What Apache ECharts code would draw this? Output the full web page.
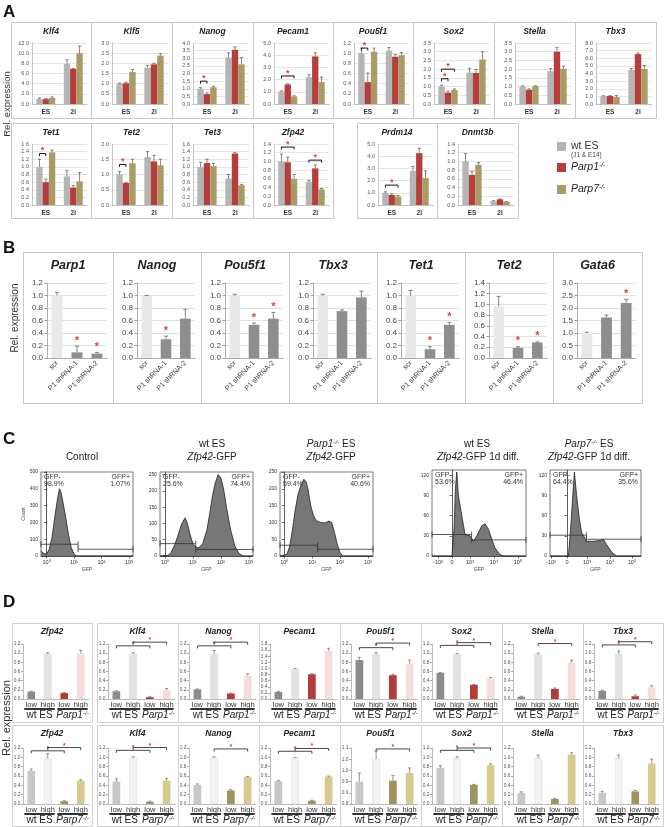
<!DOCTYPE html>
<html><head><meta charset="utf-8">
<script src="https://cdn.jsdelivr.net/npm/echarts@6.0.0/dist/echarts.min.js"></script>
<style>html,body{margin:0;padding:0;background:#fff;}#chart{width:664px;height:827px;}</style>
</head><body><div id="chart"></div>
<script>
// ================= DATA =================
// ---- Panel A (qPCR, ES vs 2i) ----
const aGroups = ['ES', '2i'];
const aNames = ['wt ES', 'Parp1-/-', 'Parp7-/-'];
const aGenes = ['Klf4','Klf5','Nanog','Pecam1','Pou5f1','Sox2','Stella','Tbx3','Tet1','Tet2','Tet3','Zfp42','Prdm14','Dnmt3b'];
const aMax = [12, 3, 4, 5, 1.2, 3.5, 3.5, 8, 1.6, 2, 1.6, 1.4, 5, 1.4];
const aInterval = [2, 0.5, 0.5, 1, 0.2, 0.5, 0.5, 1, 0.2, 0.5, 0.2, 0.2, 1, 0.2];
const aWt = [[1.0,7.9],[1.0,1.78],[1.0,3.05],[1.0,2.2],[1.0,1.05],[1.0,1.8],[1.0,1.88],[1.0,4.45],[1.0,0.75],[1.0,1.57],[1.0,0.7],[1.0,0.53],[1.0,2.8],[1.0,0.09]];
const aP1 = [[0.95,6.9],[1.02,1.95],[0.65,3.55],[1.6,3.9],[0.43,0.93],[0.65,1.78],[0.82,3.0],[1.05,6.55],[0.6,0.46],[0.72,1.43],[1.1,1.35],[0.98,0.84],[0.82,4.25],[0.69,0.13]];
const aP7 = [[1.2,10.0],[1.57,2.38],[1.1,2.6],[0.62,1.8],[1.03,0.96],[0.8,2.55],[1.02,2.02],[0.92,4.6],[1.38,0.62],[1.37,1.3],[1.02,0.52],[0.6,0.36],[0.7,2.2],[0.92,0.07]];
const aWtErr = [[0.2,0.8],[0.03,0.12],[0.07,0.3],[0.07,0.2],[0.1,0.06],[0.07,0.25],[0.04,0.15],[0.07,0.2],[0.2,0.15],[0.1,0.18],[0.12,0.1],[0.17,0.03],[0.08,0.35],[0.18,0.01]];
const aP1Err = [[0.1,0.1],[0.05,0.05],[0.08,0.2],[0.05,0.3],[0.18,0.04],[0.08,0.2],[0.05,0.25],[0.05,0.15],[0.08,0.05],[0.02,0.2],[0.1,0.03],[0.12,0.08],[0.08,0.4],[0.08,0.01]];
const aP7Err = [[0.2,1.4],[0.12,0.1],[0.07,0.45],[0.05,0.4],[0.07,0.05],[0.06,0.45],[0.03,0.15],[0.2,0.45],[0.06,0.23],[0.13,0.2],[0.07,0.02],[0.1,0.02],[0.08,0.6],[0.05,0.01]];
// significance brackets: [gene, group, fromBar, toBar, y]
const aBrackets = [[2,0,0,1,1.5],[3,0,0,2,2.3],[4,0,0,1,1.1],[5,0,0,1,1.45],[5,0,0,2,2.0],[8,0,0,1,1.35],[9,0,0,1,1.33],[11,0,0,2,1.33],[11,1,0,2,1.03],[12,0,0,2,1.63]];

// ---- Panel B (shRNA knockdown) ----
const bCats = ['scr', 'P1 shRNA-1', 'P1 shRNA-2'];
const bGenes = ['Parp1','Nanog','Pou5f1','Tbx3','Tet1','Tet2','Gata6'];
const bMax = [1.2, 1.2, 1.2, 1.2, 1.2, 1.4, 3.0];
const bInterval = [0.2, 0.2, 0.2, 0.2, 0.2, 0.2, 0.5];
const bVals = [[1.0,0.09,0.07],[1.0,0.3,0.63],[1.0,0.53,0.63],[1.0,0.75,0.97],[1.0,0.14,0.53],[0.97,0.19,0.29],[1.0,1.62,2.2]];
const bErr = [[0.05,0.1,0.02],[0.0,0.05,0.15],[0.02,0.03,0.1],[0.02,0.02,0.1],[0.08,0.04,0.04],[0.18,0.02,0.01],[0.03,0.1,0.15]];
const bStars = [[0,1,1],[0,1,0],[0,1,1],[0,0,0],[0,1,1],[0,1,1],[0,0,1]];

// ---- Panel C (flow cytometry histograms: [x, count]) ----
const cNeg = ['98.9%', '25.6%', '59.4%', '53.6%', '64.4%'];
const cPos = ['1.07%', '74.4%', '40.6%', '46.4%', '35.6%'];
const cControl = [[-0.2,30],[-0.12,18],[0.0,10],[0.1,40],[0.2,110],[0.3,230],[0.4,340],[0.47,400],[0.52,385],[0.6,320],[0.7,230],[0.8,130],[0.9,50],[1.0,12],[1.1,0],[3.15,0]];
const cWt = [[-0.18,0],[0.1,2],[0.2,8],[0.35,35],[0.45,60],[0.6,100],[0.72,117],[0.8,100],[0.9,65],[1.0,38],[1.1,28],[1.2,25],[1.35,38],[1.5,80],[1.6,130],[1.7,185],[1.8,225],[1.9,250],[2.0,240],[2.1,205],[2.2,150],[2.35,80],[2.5,30],[2.65,8],[2.8,0],[3.15,0]];
const cP1 = [[-0.15,0],[0.1,5],[0.2,30],[0.3,80],[0.4,140],[0.5,185],[0.6,210],[0.7,228],[0.78,222],[0.85,200],[0.95,150],[1.05,120],[1.15,105],[1.3,100],[1.45,98],[1.6,104],[1.7,100],[1.8,70],[1.9,35],[2.0,10],[2.1,0],[3.15,0]];
const cWt1d = [[-1.0,0],[0.0,0],[0.1,40],[0.17,100],[0.24,125],[0.32,90],[0.49,60],[0.65,32],[0.9,30],[1.07,22],[1.24,30],[1.49,45],[1.65,48],[1.82,40],[1.99,25],[2.15,12],[2.4,2],[2.6,0],[3.7,0]];
const cP71d = [[-0.85,0],[0.07,0],[0.18,40],[0.28,86],[0.37,125],[0.48,90],[0.62,55],[0.73,35],[0.98,22],[1.32,22],[1.65,23],[1.82,25],[1.98,17],[2.23,6],[2.48,0],[3.7,0]];
// gates: [xStart, xEnd, y]
const cGates = [
  [[-0.2,1.15,70],[1.15,3.15,40]],
  [[-0.18,1.1,38],[1.1,3.15,20]],
  [[-0.15,1.2,32],[1.2,3.18,20]],
  [[-1.0,0.98,32],[0.98,3.7,24]],
  [[-0.85,0.97,31],[0.97,3.7,25]]
];
const cLogTicks = [0, 1, 2, 3];
const cLogLabels = ['10\u2070', '10\u00b9', '10\u00b2', '10\u00b3'];
const cBiTicksWt = [-0.7, 0, 0.9, 2.1, 3.3];
const cBiTicksP7 = [-0.8, 0, 1.0, 2.15, 3.25];
const cBiLabels = ['-10\u00b3', '0', '10\u00b3', '10\u2074', '10\u2075'];

// ---- Panel D (low / high Zfp42-GFP sorted) ----
const dCats = ['low', 'high', 'low', 'high'];
const dGenes = ['Zfp42','Klf4','Nanog','Pecam1','Pou5f1','Sox2','Stella','Tbx3'];
const d1Max = [1.2, 1.2, 1.2, 1.8, 1.2, 1.2, 1.2, 1.2];
const d1Vals = [[0.16,0.98,0.13,1.0],[0.17,0.98,0.04,0.2],[0.21,0.98,0.12,0.51],[0.23,0.98,0.81,1.58],[0.85,0.98,0.52,0.77],[0.57,0.98,0.31,0.45],[0.05,0.98,0.22,0.79],[0.18,0.98,0.06,0.26]];
const d1Err = [[0.01,0.03,0.01,0.06],[0.01,0.03,0.01,0.03],[0.01,0.08,0.01,0.04],[0.02,0.02,0.02,0.08],[0.06,0.03,0.02,0.08],[0.01,0.01,0.01,0.02],[0.01,0.02,0.02,0.06],[0.01,0.07,0.03,0.03]];
const d1Brackets = [[], [[0,2,1.16],[1,3,1.24]], [[0,2,1.16],[1,3,1.24]], [], [[0,2,1.12],[1,3,1.22]], [[0,2,1.17],[1,3,1.23]], [[1,3,1.21]], [[0,2,1.18],[1,3,1.25]]];
const d7Min = [0, 0, 0, 0, 0.8, 0, 0, 0];
const d7Max = [1.2, 1.2, 1.2, 1.2, 1.1, 1.2, 1.2, 1.2];
const d7Interval = [0.2, 0.2, 0.2, 0.2, 0.06, 0.2, 0.2, 0.2];
const d7Vals = [[0.71,0.98,0.06,0.5],[0.48,0.99,0.05,0.5],[0.41,1.0,0.29,0.58],[0.49,0.99,0.07,0.59],[0.92,1.04,0.925,0.966],[0.77,0.98,0.41,0.83],[0.24,0.98,0.11,1.06],[0.24,0.98,0.27,0.87]];
const d7Err = [[0.04,0.1,0.01,0.02],[0.06,0.02,0.01,0.05],[0.02,0.01,0.02,0.01],[0.01,0.01,0.01,0.01],[0.046,0.044,0.027,0.027],[0.05,0.03,0.01,0.03],[0.02,0.07,0.01,0.04],[0.03,0.07,0.02,0.09]];
const d7Brackets = [[[0,2,1.14],[1,3,1.21]], [[0,2,1.15],[1,3,1.21]], [[1,3,1.18]], [[0,2,1.13],[1,3,1.19]], [[1,3,1.095]], [[0,2,1.15],[1,3,1.2]], [], []];

// ================= STYLE / LAYOUT =================
const FF = '"Liberation Sans", Arial, Helvetica, sans-serif';
const aColors = ['#b5b5b5', '#b53e3b', '#a99b66'];
const bColors = ['#e9e9e9', '#8e8e8e', '#8e8e8e'];
const d1Colors = ['#8b8b8b', '#e2e2e2', '#b23c39', '#f6dcdc'];
const d7Colors = ['#c7c7c7', '#f3f3f3', '#a0935f', '#d6ca8e'];
const STAR = '#e0403c';

const aBoxes = [[11,22,80,96],[91,22,81,96],[172,22,81,96],[253,22,80,96],[333,22,80,96],[413,22,81,96],[494,22,81,96],[575,22,81,96],
                [11,123,80,95],[91,123,81,95],[172,123,81,95],[253,123,80,95],[357,123,80,95],[437,123,81,95]];
const bBoxX = [23,113,201,289,377,465,553];
const bBoxW = [90,88,88,88,88,88,89];
const cRects = [[41,472,92,84],[160,472,93,84],[280,472,93,84],[432,470,94,86],[550,470,91,86]];
const dBoxX = [12,97,178,259,340,421,502,583];
const dBoxW = [80,81,81,81,81,81,81,80];

const option = {animation:false, backgroundColor:'#ffffff', grid:[], xAxis:[], yAxis:[], series:[], graphic:{elements:[]}};
const G = option.graphic.elements;

function txt(x, y, s, o) {
  o = o || {};
  const rot = o.rotation || 0; delete o.rotation;
  const st = Object.assign({text:s, fontFamily:FF, fontSize:10, fill:'#222', align:'left', verticalAlign:'middle'}, o);
  st.textAlign = st.align; st.textVerticalAlign = st.verticalAlign;
  G.push({type:'text', x:x, y:y, rotation:rot, silent:true, z:10, style:st});
}
function rich(parts, size, color) {
  const r = {
    i:{fontSize:size, fontStyle:'italic', fontFamily:FF, fill:color||'#222'},
    s:{fontSize:Math.round(size*0.62*10)/10, fontStyle:'italic', fontFamily:FF, fill:color||'#222', verticalAlign:'top'},
    n:{fontSize:size, fontFamily:FF, fill:color||'#222'}
  };
  return {text: parts.map(p => '{' + p[1] + '|' + p[0] + '}').join(''), rich:r};
}
function richTxt(x, y, parts, size, align) {
  G.push({type:'text', x:x, y:y, silent:true, z:10, style:Object.assign(rich(parts, size), {align:align, verticalAlign:'middle', textAlign:align, textVerticalAlign:'middle'})});
}
function box(x, y, w, h, c) {
  G.push({type:'rect', silent:true, z:1, shape:{x:x+0.5, y:y+0.5, width:w, height:h}, style:{fill:'none', stroke:c||'#c8c8c8', lineWidth:1}});
}
function addGrid(l, t, w, h) {
  option.grid.push({left:l, top:t, width:w, height:h, outerBoundsMode:'none', containLabel:false});
  return option.grid.length - 1;
}
function errSeries(gi, data, frac, cap, color) {
  option.series.push({type:'custom', xAxisIndex:gi, yAxisIndex:gi, clip:false, silent:true, z:5,
    encode:{x:0, y:1}, data:data,
    renderItem:function(p, api){
      const c = api.value(0), v = api.value(1), e = api.value(2), k = api.value(3);
      const bw = api.size([1,0])[0];
      const a = api.coord([c, v]), b = api.coord([c, v + e]);
      const x = a[0] + k * frac * bw;
      return {type:'group', children:[
        {type:'line', shape:{x1:x, y1:a[1], x2:x, y2:b[1]}, style:{stroke:color, lineWidth:0.8}},
        {type:'line', shape:{x1:x-cap, y1:b[1], x2:x+cap, y2:b[1]}, style:{stroke:color, lineWidth:0.8}}
      ]};
    }});
}
function bracketSeries(gi, data, tick, starSize, lineColor, lw) {
  option.series.push({type:'custom', xAxisIndex:gi, yAxisIndex:gi, clip:false, silent:true, z:6,
    encode:{x:0, y:3}, data:data,
    renderItem:function(p, api){
      const c = api.value(0), xa = api.value(1), xb = api.value(2), y = api.value(3);
      const bw = api.size([1,0])[0];
      const q = api.coord([c, y]);
      const x1 = q[0] + xa * bw, x2 = q[0] + xb * bw, yy = q[1];
      return {type:'group', children:[
        {type:'polyline', shape:{points:[[x1,yy+tick],[x1,yy],[x2,yy],[x2,yy+tick]]}, style:{stroke:lineColor, lineWidth:lw, fill:null}},
        {type:'text', x:(x1+x2)/2, y:yy-starSize*0.28, style:{text:'*', fill:STAR, fontSize:starSize, fontFamily:FF, fontWeight:'bold', align:'center', verticalAlign:'middle', textAlign:'center', textVerticalAlign:'middle'}}
      ]};
    }});
}

// ================= PANEL A =================
txt(3, 12, 'A', {fontSize:17, fontWeight:'bold', fill:'#111'});
txt(7, 104, 'Rel. expression', {fontSize:9.5, align:'center', rotation:Math.PI/2, fill:'#333'});
aGenes.forEach(function(gene, i){
  const b = aBoxes[i];
  box(b[0], b[1], b[2], b[3]);
  txt(b[0] + b[2]/2, b[1] + 10, gene, {fontSize:8.5, fontWeight:'bold', fontStyle:'italic', align:'center'});
  const gi = addGrid(b[0] + 21, b[1] + 21, b[2] - 25, 61);
  option.xAxis.push({type:'category', gridIndex:gi, data:aGroups,
    axisLine:{lineStyle:{color:'#b8b8b8', width:0.8}}, axisTick:{show:false},
    axisLabel:{fontSize:6.5, fontWeight:'bold', color:'#333', margin:5, fontFamily:FF}});
  option.yAxis.push({type:'value', gridIndex:gi, min:0, max:aMax[i], interval:aInterval[i],
    axisLine:{show:true, lineStyle:{color:'#b8b8b8', width:0.8}}, axisTick:{show:false},
    splitLine:{show:true, lineStyle:{color:'#dadada', width:0.7}},
    axisLabel:{fontSize:5.5, color:'#555', margin:3, fontFamily:FF, formatter:function(v){return v.toFixed(1);}}});
  const sets = [aWt, aP1, aP7], errs = [aWtErr, aP1Err, aP7Err];
  const eData = [];
  sets.forEach(function(s, k){
    option.series.push({type:'bar', name:aNames[k], xAxisIndex:gi, yAxisIndex:gi, data:s[i],
      barWidth:'23%', barGap:'0%', itemStyle:{color:aColors[k]}, silent:true});
    for (let g = 0; g < 2; g++) eData.push([g, s[i][g], errs[k][i][g], k - 1]);
  });
  errSeries(gi, eData, 0.23, 1.6, '#666');
  const br = aBrackets.filter(function(r){return r[0] === i;}).map(function(r){
    return [r[1], (r[2]-1)*0.23, (r[3]-1)*0.23, r[4]];
  });
  if (br.length) bracketSeries(gi, br, 2.5, 9, '#111', 1);
});
// legend for panel A
[142, 163, 185].forEach(function(y, k){
  G.push({type:'rect', silent:true, z:5, shape:{x:557, y:y, width:9, height:9}, style:{fill:aColors[k]}});
});
txt(571, 146, 'wt ES', {fontSize:10.5, fill:'#333'});
txt(571, 155.5, '(J1 & E14)', {fontSize:6.5, fill:'#444'});
richTxt(571, 167.5, [['Parp1','i'],['-/-','s']], 10.5, 'left');
richTxt(571, 189.5, [['Parp7','i'],['-/-','s']], 10.5, 'left');

// ================= PANEL B =================
txt(3, 248, 'B', {fontSize:17, fontWeight:'bold', fill:'#111'});
txt(15, 318, 'Rel. expression', {fontSize:10, align:'center', rotation:Math.PI/2, fill:'#333'});
bGenes.forEach(function(gene, i){
  const x0 = bBoxX[i], w = bBoxW[i];
  box(x0, 252, w, 151);
  txt(x0 + w/2, 266, gene, {fontSize:12.5, fontWeight:'bold', fontStyle:'italic', align:'center'});
  const gi = addGrid(x0 + 24, 283, w - 30, 75);
  option.xAxis.push({type:'category', gridIndex:gi, data:bCats,
    axisLine:{lineStyle:{color:'#999', width:0.8}}, axisTick:{show:false},
    axisLabel:{fontSize:7, color:'#333', rotate:45, interval:0, margin:4, fontFamily:FF}});
  option.yAxis.push({type:'value', gridIndex:gi, min:0, max:bMax[i], interval:bInterval[i],
    axisLine:{show:true, lineStyle:{color:'#999', width:0.8}}, axisTick:{show:true, length:2.5, lineStyle:{color:'#999'}},
    splitLine:{show:true, lineStyle:{color:'#d4d4d4', width:0.7}},
    axisLabel:{fontSize:8, color:'#444', margin:4, fontFamily:FF, formatter:function(v){return v.toFixed(1);}}});
  option.series.push({type:'bar', xAxisIndex:gi, yAxisIndex:gi, barWidth:'55%', silent:true,
    data:bVals[i].map(function(v, k){return {value:v, itemStyle:{color:bColors[k]}};})});
  errSeries(gi, bVals[i].map(function(v, k){return [k, v, bErr[i][k], 0];}), 0, 2, '#666');
  const st = [];
  bStars[i].forEach(function(s, k){ if (s) st.push([k, bVals[i][k] + bErr[i][k]]); });
  if (st.length) option.series.push({type:'custom', xAxisIndex:gi, yAxisIndex:gi, clip:false, silent:true, z:6,
    encode:{x:0, y:1}, data:st,
    renderItem:function(p, api){
      const q = api.coord([api.value(0), api.value(1)]);
      return {type:'text', x:q[0], y:q[1]-5.5, style:{text:'*', fill:STAR, fontSize:11, fontFamily:FF, fontWeight:'bold', align:'center', verticalAlign:'middle', textAlign:'center', textVerticalAlign:'middle'}};
    }});
});

// ================= PANEL C =================
txt(3, 439, 'C', {fontSize:17, fontWeight:'bold', fill:'#111'});
txt(82, 457, 'Control', {fontSize:10, align:'center', fill:'#222'});
txt(212, 444, 'wt ES', {fontSize:10, align:'center', fill:'#222'});
richTxt(212, 457, [['Zfp42','i'],['-GFP','n']], 10, 'center');
richTxt(331, 444, [['Parp1','i'],['-/-','s'],[' ES','n']], 10, 'center');
richTxt(331, 457, [['Zfp42','i'],['-GFP','n']], 10, 'center');
txt(477, 444, 'wt ES', {fontSize:10, align:'center', fill:'#222'});
richTxt(478, 457, [['Zfp42','i'],['-GFP 1d diff.','n']], 10, 'center');
richTxt(589, 444, [['Parp7','i'],['-/-','s'],[' ES','n']], 10, 'center');
richTxt(589, 457, [['Zfp42','i'],['-GFP 1d diff.','n']], 10, 'center');

const cData = [cControl, cWt, cP1, cWt1d, cP71d];
const cYMax = [500, 258, 250, 128, 128];
const cYInt = [100, 50, 50, 30, 30];
const cXRange = [[-0.2,3.15],[-0.18,3.15],[-0.15,3.18],[-1.0,3.7],[-0.85,3.7]];
const cTicks = [cLogTicks, cLogTicks, cLogTicks, cBiTicksWt, cBiTicksP7];
const cTickLabels = [cLogLabels, cLogLabels, cLogLabels, cBiLabels, cBiLabels];
cData.forEach(function(d, i){
  const r = cRects[i];
  const gi = addGrid(r[0], r[1], r[2], r[3]);
  option.grid[gi].show = true; option.grid[gi].borderColor = '#555'; option.grid[gi].borderWidth = 0.8;
  const ticks = cTicks[i], labs = cTickLabels[i];
  option.xAxis.push({type:'value', gridIndex:gi, min:cXRange[i][0], max:cXRange[i][1],
    name:'GFP', nameLocation:'middle', nameGap:11, nameTextStyle:{fontSize:5, color:'#444', fontFamily:FF},
    axisLine:{show:true, lineStyle:{color:'#333', width:0.8}},
    axisTick:{show:true, length:2.5, customValues:ticks, lineStyle:{color:'#333', width:0.7}},
    splitLine:{show:false},
    axisLabel:{fontSize:5.5, color:'#333', margin:3, fontFamily:FF, customValues:ticks,
      formatter:function(v){ const j = ticks.findIndex(function(t){return Math.abs(t - v) < 1e-6;}); return j >= 0 ? labs[j] : ''; }}});
  option.yAxis.push({type:'value', gridIndex:gi, min:0, max:cYMax[i], interval:cYInt[i],
    name: i === 0 ? 'Count' : '', nameLocation:'middle', nameGap:14, nameTextStyle:{fontSize:5, color:'#444', fontFamily:FF},
    axisLine:{show:true, lineStyle:{color:'#333', width:0.8}},
    axisTick:{show:true, length:2.5, lineStyle:{color:'#333', width:0.7}},
    splitLine:{show:false},
    axisLabel:{fontSize:5, color:'#333', margin:3, fontFamily:FF, showMaxLabel: i === 0 || i === 2}});
  option.series.push({type:'line', xAxisIndex:gi, yAxisIndex:gi, data:d, symbol:'none', silent:true,
    lineStyle:{color:'#222', width:0.8}, areaStyle:{color:'#777777', opacity:1}, z:3});
  option.series.push({type:'custom', xAxisIndex:gi, yAxisIndex:gi, clip:false, silent:true, z:6,
    encode:{x:[0,1], y:2}, data:cGates[i],
    renderItem:function(p, api){
      const a = api.coord([api.value(0), api.value(2)]), b = api.coord([api.value(1), api.value(2)]);
      return {type:'group', children:[
        {type:'line', shape:{x1:a[0], y1:a[1], x2:b[0], y2:b[1]}, style:{stroke:'#333', lineWidth:0.8}},
        {type:'line', shape:{x1:a[0], y1:a[1]-3, x2:a[0], y2:a[1]+3}, style:{stroke:'#333', lineWidth:0.8}},
        {type:'line', shape:{x1:b[0], y1:b[1]-3, x2:b[0], y2:b[1]+3}, style:{stroke:'#333', lineWidth:0.8}}
      ]};
    }});
  txt(r[0] + 3, r[1] + 5, 'GFP-', {fontSize:7, fill:'#333'});
  txt(r[0] + 3, r[1] + 12.5, cNeg[i], {fontSize:7, fill:'#333'});
  txt(r[0] + r[2] - 3, r[1] + 5, 'GFP+', {fontSize:7, fill:'#333', align:'right'});
  txt(r[0] + r[2] - 3, r[1] + 12.5, cPos[i], {fontSize:7, fill:'#333', align:'right'});
});

// ================= PANEL D =================
txt(3, 602, 'D', {fontSize:17, fontWeight:'bold', fill:'#111'});
txt(7, 718, 'Rel. expression', {fontSize:11, align:'center', rotation:Math.PI/2, fill:'#333'});
function panelD(row, i) {
  const x0 = dBoxX[i], w = dBoxW[i];
  const y0 = row === 0 ? 623 : 725, h = row === 0 ? 99 : 101;
  const plotTop = row === 0 ? 644 : 748, plotH = row === 0 ? 55 : 56;
  const vals = row === 0 ? d1Vals[i] : d7Vals[i];
  const errs = row === 0 ? d1Err[i] : d7Err[i];
  const cols = row === 0 ? d1Colors : d7Colors;
  const ymin = row === 0 ? 0 : d7Min[i];
  const ymax = row === 0 ? d1Max[i] : d7Max[i];
  const yint = row === 0 ? 0.2 : d7Interval[i];
  const brs = row === 0 ? d1Brackets[i] : d7Brackets[i];
  box(x0, y0, w, h, '#cfcfcf');
  txt(x0 + w/2, y0 + 9, dGenes[i], {fontSize:8.5, fontWeight:'bold', fontStyle:'italic', align:'center'});
  const gi = addGrid(x0 + 11, plotTop, w - 14, plotH);
  option.xAxis.push({type:'category', gridIndex:gi, data:dCats,
    axisLine:{lineStyle:{color:'#aaa', width:0.8}}, axisTick:{show:false},
    axisLabel:{fontSize:7.5, color:'#333', margin:2, interval:0, fontFamily:FF}});
  option.yAxis.push({type:'value', gridIndex:gi, min:ymin, max:ymax, interval:yint,
    axisLine:{show:true, lineStyle:{color:'#aaa', width:0.8}}, axisTick:{show:true, length:2, lineStyle:{color:'#aaa'}},
    splitLine:{show:false},
    axisLabel:{fontSize:4.8, color:'#555', margin:2.5, fontFamily:FF, formatter:function(v){return v.toFixed(1);}}});
  option.series.push({type:'bar', xAxisIndex:gi, yAxisIndex:gi, barWidth:'46%', silent:true,
    data:vals.map(function(v, k){return {value:v, itemStyle:{color:cols[k], borderColor: k === 1 ? '#d8d8d8' : cols[k], borderWidth: k === 1 ? 0.5 : 0}};})});
  errSeries(gi, vals.map(function(v, k){return [k, v, errs[k], 0];}), 0, 1.5, '#777');
  if (brs.length) bracketSeries(gi, brs.map(function(b){return [b[0], 0, b[1]-b[0], b[2]];}), 2.5, 7, '#333', 0.9);
  const grpLabels = row === 0 ? [['wt ES','n'], ['Parp1','i']] : [['wt ES','n'], ['Parp7','i']];
  option.series.push({type:'custom', xAxisIndex:gi, yAxisIndex:gi, clip:false, silent:true, z:6,
    encode:{x:0, y:1}, data:[[0, ymin, 0], [2, ymin, 1]],
    renderItem:function(p, api){
      const c = api.value(0), li = api.value(2);
      const bw = api.size([1,0])[0];
      const q = api.coord([c, api.value(1)]);
      const x1 = q[0] - 0.42*bw, x2 = q[0] + 1.42*bw, yy = q[1] + 10;
      const lab = grpLabels[li];
      const st = lab[1] === 'n' ? rich([[lab[0],'n']], 10, '#222') : rich([[lab[0],'i'],['-/-','s']], 10, '#222');
      return {type:'group', children:[
        {type:'rect', shape:{x:x1, y:yy-1, width:x2-x1, height:2}, style:{fill:'#333'}},
        {type:'text', x:(x1+x2)/2, y:yy+6.5, style:Object.assign(st, {align:'center', verticalAlign:'middle', textAlign:'center', textVerticalAlign:'middle'})}
      ]};
    }});
}
for (let i = 0; i < 8; i++) { panelD(0, i); panelD(1, i); }

const chart = echarts.init(document.getElementById('chart'), null, {renderer:'canvas'});
chart.setOption(option);
</script></body></html>
